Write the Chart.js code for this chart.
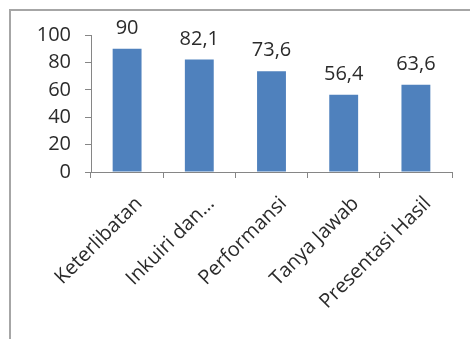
<!DOCTYPE html>
<html>
<head>
<meta charset="utf-8">
<script src="https://cdn.jsdelivr.net/npm/chart.js@4/dist/chart.umd.min.js"></script>
<style>
  html, body { margin: 0; padding: 0; background: #fff; }
  #wrap { position: relative; width: 470px; height: 339px; overflow: hidden; }
  #frame { position: absolute; left: 9px; top: 9px; width: 480px; height: 350px;
           border-left: 2px solid #a6a6a6; border-top: 2px solid #a6a6a6; }
  canvas { position: absolute; left: 0; top: 0; }
</style>
</head>
<body>
<div id="wrap">
  <div id="frame"></div>
  <canvas id="chart" width="470" height="339"></canvas>
</div>
<script>
var categories = ["Keterlibatan", "Inkuiri dan\u2026", "Performansi", "Tanya Jawab", "Presentasi Hasil"];
var values = [90, 82.1, 73.6, 56.4, 63.6];
var valueLabels = ["90", "82,1", "73,6", "56,4", "63,6"];
var yTicks = [0, 20, 40, 60, 80, 100];

Chart.defaults.font.family = "'Open Sans', sans-serif";
Chart.defaults.color = "#2b2b2b";

// value labels above the bars
var barLabels = {
  id: "barLabels",
  afterDatasetsDraw: function (chart) {
    var ctx = chart.ctx;
    var meta = chart.getDatasetMeta(0);
    ctx.save();
    ctx.font = "20px 'Open Sans', sans-serif";
    ctx.fillStyle = "#2b2b2b";
    ctx.textAlign = "center";
    ctx.textBaseline = "alphabetic";
    meta.data.forEach(function (bar, i) {
      ctx.fillText(valueLabels[i], bar.x, bar.y - 15);
    });
    ctx.restore();
  }
};

new Chart(document.getElementById("chart"), {
  type: "bar",
  data: {
    labels: categories,
    datasets: [{
      data: values,
      backgroundColor: "#4f81bd",
      borderWidth: 0,
      barPercentage: 0.4,
      categoryPercentage: 1.0
    }]
  },
  options: {
    responsive: false,
    animation: false,
    layout: { padding: { left: 0, top: 35, right: 18, bottom: 0 } },
    plugins: {
      legend: { display: false },
      tooltip: { enabled: false }
    },
    scales: {
      x: {
        grid: { display: true, drawOnChartArea: false, drawTicks: true, tickLength: 6, color: "#868686", offset: true },
        border: { display: true, color: "#868686", width: 1 },
        ticks: {
          font: { size: 20 },
          color: "#2b2b2b",
          maxRotation: 45,
          minRotation: 45,
          autoSkip: false,
          padding: 14,
          labelOffset: 12
        },
        afterFit: function (scale) { scale.height = 167; }
      },
      y: {
        min: 0,
        max: 100,
        afterBuildTicks: function (scale) {
          scale.ticks = yTicks.map(function (v) { return { value: v }; });
        },
        grid: { display: true, drawOnChartArea: false, drawTicks: true, tickLength: 6, color: "#868686" },
        border: { display: true, color: "#868686", width: 1 },
        ticks: { font: { size: 20 }, color: "#2b2b2b", padding: 14 },
        afterFit: function (scale) { scale.width = 91; }
      }
    }
  },
  plugins: [barLabels]
});
</script>
</body>
</html>
